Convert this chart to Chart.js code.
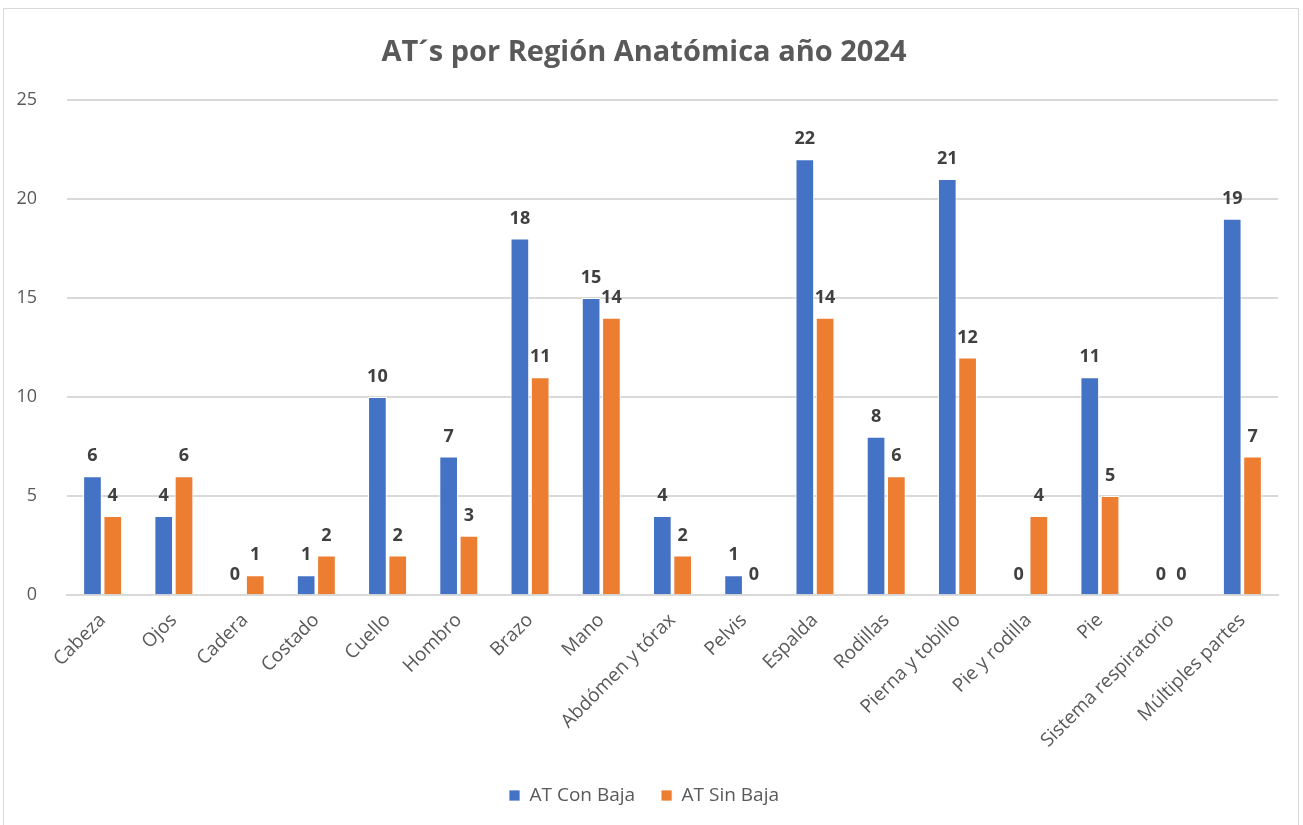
<!DOCTYPE html>
<html><head><meta charset="utf-8">
<script src="https://cdn.jsdelivr.net/npm/chart.js@4"></script>
<style>
html,body{margin:0;padding:0;background:#fff;}
#wrap{position:absolute;left:3px;top:8px;width:1296px;height:830px;border:1px solid #d9d9d9;box-sizing:border-box;background:#fff;}
canvas{display:block;}
</style></head><body>
<div id="wrap"><canvas id="c" width="1294" height="816"></canvas></div>
<script>
const categories = ["Cabeza","Ojos","Cadera","Costado","Cuello","Hombro","Brazo","Mano","Abdómen y tórax","Pelvis","Espalda","Rodillas","Pierna y tobillo","Pie y rodilla","Pie","Sistema respiratorio","Múltiples partes"];
const conBaja = [6,4,0,1,10,7,18,15,4,1,22,8,21,0,11,0,19];
const sinBaja = [4,6,1,2,2,3,11,14,2,0,14,6,12,4,5,0,7];
const seriesNames = ["AT Con Baja","AT Sin Baja"];
const titleText = "AT´s por Región Anatómica año 2024";

const FONT = "'Open Sans', 'Liberation Sans', sans-serif";
const labelPlugin = {
  id:'barLabels',
  afterDatasetsDraw(chart){
    const ctx = chart.ctx;
    ctx.save();
    ctx.font = "bold 18px " + FONT;
    ctx.fillStyle = "#404040";
    ctx.textAlign = "center";
    ctx.textBaseline = "bottom";
    chart.data.datasets.forEach((ds,i)=>{
      const meta = chart.getDatasetMeta(i);
      meta.data.forEach((bar,j)=>{
        ctx.fillText(String(ds.data[j]), bar.x, bar.y - 11);
      });
    });
    ctx.restore();
  }
};

new Chart(document.getElementById('c'),{
  type:'bar',
  data:{
    labels:categories,
    datasets:[
      {label:seriesNames[0],data:conBaja,backgroundColor:'#4472c4',borderColor:'#ffffff',borderWidth:{left:1,right:1,top:1,bottom:0}},
      {label:seriesNames[1],data:sinBaja,backgroundColor:'#ed7d31',borderColor:'#ffffff',borderWidth:{left:1,right:1,top:1,bottom:0}}
    ]
  },
  options:{
    responsive:false,
    animation:false,
    layout:{padding:{left:6,right:20,top:6,bottom:10}},
    datasets:{bar:{categoryPercentage:0.57,barPercentage:0.92}},
    plugins:{
      title:{display:true,text:titleText,color:'#595959',font:{family:FONT,size:29,weight:'bold'},padding:{top:20,bottom:30}},
      legend:{position:'bottom',labels:{color:'#595959',font:{family:FONT,size:19},boxWidth:11,boxHeight:11,padding:26},},
      tooltip:{enabled:false}
    },
    scales:{
      x:{
        grid:{display:false},
        border:{display:true,color:'#d9d9d9',width:2},
        ticks:{color:'#595959',font:{family:FONT,size:19},maxRotation:45,minRotation:45,padding:6},
        afterFit(s){ s.paddingLeft = 0; s.paddingRight = 0; s.height += 2; }
      },
      y:{
        min:0,max:25,
        grid:{color:'#d9d9d9',lineWidth:2,drawTicks:false},
        border:{display:false},
        ticks:{stepSize:5,color:'#595959',font:{family:FONT,size:18},padding:30},
        afterFit(s){ s.width = 57; }
      }
    }
  },
  plugins:[labelPlugin]
});
</script>
</body></html>
